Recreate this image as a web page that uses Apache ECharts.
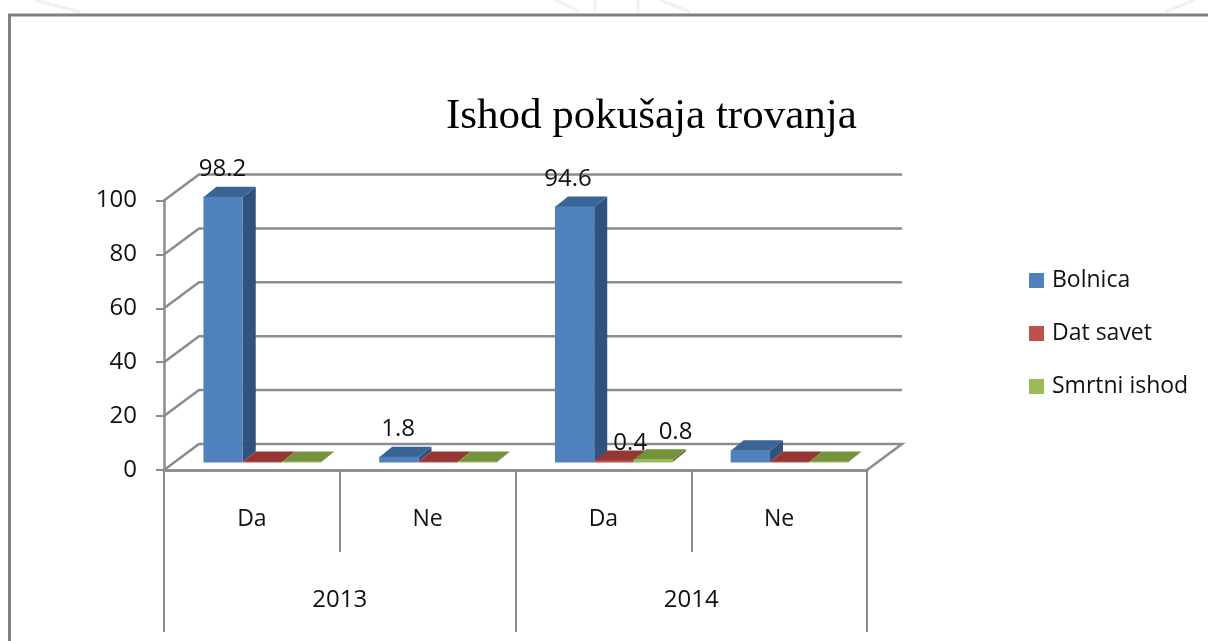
<!DOCTYPE html>
<html>
<head>
<meta charset="utf-8">
<style>html,body{margin:0;padding:0;background:#fff}#c{width:1208px;height:641px;filter:blur(0.4px)}</style>
<script src="https://cdn.jsdelivr.net/npm/echarts@6/dist/echarts.min.js"></script>
</head>
<body>
<div id="c"></div>
<script>
const categories = ['Da', 'Ne', 'Da', 'Ne'];
const years = ['2013', '2014'];
const yTicks = [0, 20, 40, 60, 80, 100];
const bolnica = [98.2, 1.8, 94.6, 4.2];
const datSavet = [0, 0, 0.4, 0];
const smrtniIshod = [0, 0, 0.8, 0];
const bolnicaLabels = ['98.2', '1.8', '94.6', ''];
const datSavetLabels = ['', '', '0.4', ''];
const smrtniIshodLabels = ['', '', '0.8', ''];

const FONT = '"Open Sans", sans-serif';
const WALL = {dx: 35, dy: -26};
const DEPTH = {dx: 13, dy: -10.5, sx: 10.5, sy: -8};
const GREY = '#8c8c8c';
const nudges = {'94.6': [-6, 0], '0.4': [17, 10], '0.8': [23, 0]};

function wallItem(params, api) {
  const cs = params.coordSys;
  const y = api.coord([0, api.value(1)])[1];
  const x0 = cs.x, x1 = cs.x + cs.width;
  const pts = [[x0, y], [x0 + WALL.dx, y + WALL.dy], [x1 + WALL.dx, y + WALL.dy]];
  if (api.value(1) === 0) pts.push([x1, y]);
  return {type: 'polyline', shape: {points: pts}, style: {stroke: GREY, lineWidth: 2.5, fill: null}, silent: true};
}

function barRenderer(seriesPos, front, side, top, labels) {
  return function (params, api) {
    const idx = api.value(0);
    const val = api.value(1);
    const c = api.coord([idx, val]);
    const c0 = api.coord([idx, 0]);
    const band = api.size([1, 0])[0];
    const w = band * 0.2235;
    const l = c[0] - 1.5 * w + DEPTH.sx + seriesPos * w;
    const r = l + w;
    const b = c0[1] + DEPTH.sy;
    const t = c[1] + DEPTH.sy;
    const dx = DEPTH.dx, dy = DEPTH.dy;
    const children = [
      {type: 'polygon', shape: {points: [[r, b], [r + dx, b + dy], [r + dx, t + dy], [r, t]]}, style: {fill: side}},
      {type: 'polygon', shape: {points: [[l, t], [l + dx, t + dy], [r + dx, t + dy], [r, t]]}, style: {fill: top}},
      {type: 'rect', shape: {x: l, y: t - 0.5, width: w, height: Math.max(b - t, 0) + 1}, style: {fill: front}}
    ];
    const txt = labels[idx];
    if (txt) {
      const n = nudges[txt] || [0, 0];
      children.push({type: 'text', x: l + 19 + n[0], y: t - 28 + n[1],
        style: {text: txt, align: 'center', verticalAlign: 'middle', textAlign: 'center', textVerticalAlign: 'middle',
                fill: '#111', font: '24px ' + FONT}});
    }
    return {type: 'group', children: children};
  };
}

function barSeries(name, values, pos, front, side, top, labels) {
  return {
    name: name, type: 'custom', xAxisIndex: 0, yAxisIndex: 0, z: 3 + pos, silent: true,
    itemStyle: {color: front},
    encode: {x: 0, y: 1},
    data: values.map((v, i) => [i, v]),
    renderItem: barRenderer(pos, front, side, top, labels)
  };
}

function faint(points) {
  return {type: 'polyline', shape: {points: points}, style: {stroke: '#f1f1f1', lineWidth: 3, fill: null}, silent: true};
}

const chart = echarts.init(document.getElementById('c'), null, {renderer: 'canvas'});
chart.setOption({
  animation: false,
  backgroundColor: '#ffffff',
  title: {
    text: 'Ishod pokušaja trovanja', left: 441, top: 90,
    textStyle: {fontFamily: '"Liberation Serif", serif', fontSize: 43, fontWeight: 'normal', color: '#000'}
  },
  legend: {
    orient: 'vertical', left: 1029, top: 269, padding: 0, itemWidth: 15, itemHeight: 15, itemGap: 30,
    selectedMode: false, icon: 'rect',
    data: ['Bolnica', 'Dat savet', 'Smrtni ishod'],
    textStyle: {fontFamily: FONT, fontSize: 23, color: '#111', padding: [0, 0, 0, 3]}
  },
  grid: {left: 164, right: 341, top: 200.5, bottom: 171},
  xAxis: [
    {type: 'category', data: categories, position: 'bottom', offset: 0,
     axisLine: {lineStyle: {color: GREY, width: 2.5}},
     axisTick: {show: true, length: 82, lineStyle: {color: GREY, width: 2}},
     axisLabel: {margin: 38, fontFamily: FONT, fontSize: 23, color: '#111', interval: 0}},
    {type: 'category', data: years, position: 'bottom', offset: 0,
     axisLine: {lineStyle: {color: GREY, width: 2.5}},
     axisTick: {show: true, length: 162, lineStyle: {color: GREY, width: 2}},
     axisLabel: {margin: 118, fontFamily: FONT, fontSize: 24, color: '#111', interval: 0}}
  ],
  yAxis: {
    type: 'value', min: 0, max: 100, interval: 20,
    splitLine: {show: false},
    axisLine: {show: true, lineStyle: {color: GREY, width: 2.5}},
    axisTick: {show: true, length: 8, lineStyle: {color: GREY, width: 2}},
    axisLabel: {margin: 27, fontFamily: FONT, fontSize: 24, color: '#111', lineHeight: 30, padding: [8, 0, 0, 0]}
  },
  graphic: [
    faint([[35, 0], [80, 12]]), faint([[1165, 12], [1195, 0]]),
    faint([[555, 0], [580, 12]]), faint([[660, 0], [690, 12]]),
    faint([[595, 0], [595, 12]]), faint([[638, 0], [638, 12]]),
    {type: 'polyline', shape: {points: [[9.5, 641], [9.5, 15], [1208, 15]]},
     style: {stroke: '#808080', lineWidth: 3, fill: null}, silent: true}
  ],
  series: [
    {name: 'walls', type: 'custom', xAxisIndex: 0, yAxisIndex: 0, z: 1, silent: true,
     encode: {x: 0, y: 1},
     data: yTicks.map(v => [0, v]), renderItem: wallItem},
    barSeries('Bolnica', bolnica, 0, '#4f81bd', '#30527e', '#396494', bolnicaLabels),
    barSeries('Dat savet', datSavet, 1, '#c0504d', '#7f3331', '#953735', datSavetLabels),
    barSeries('Smrtni ishod', smrtniIshod, 2, '#9bbb59', '#5f7530', '#76923c', smrtniIshodLabels)
  ]
});
</script>
</body>
</html>
